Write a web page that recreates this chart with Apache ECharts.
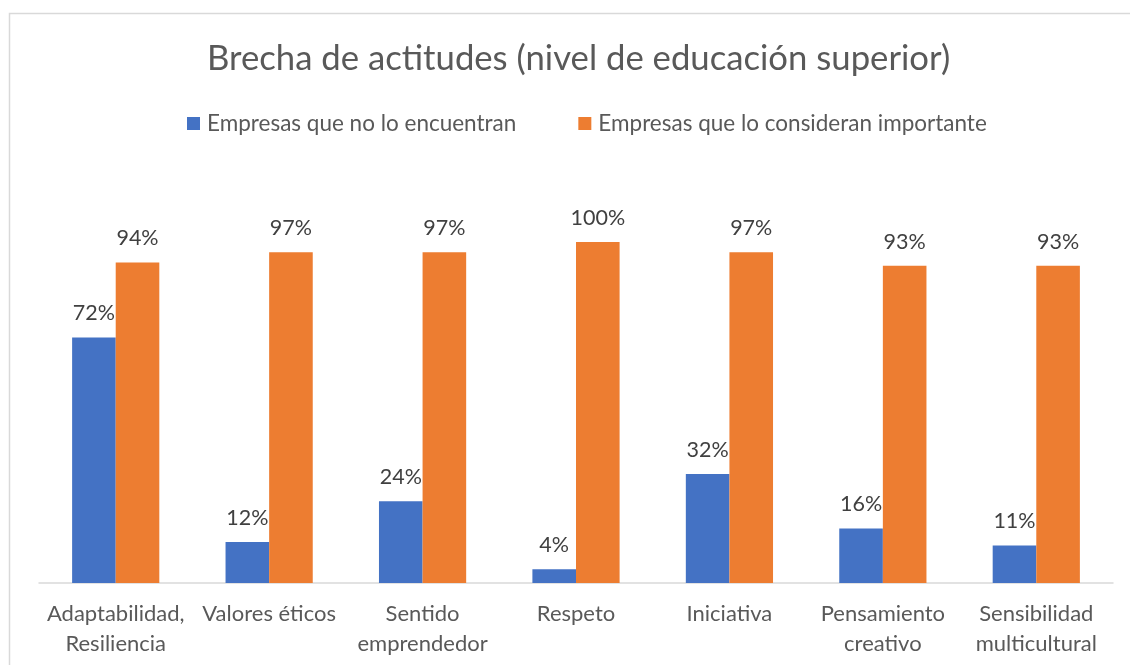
<!DOCTYPE html>
<html><head><meta charset="utf-8">
<script src="https://cdn.jsdelivr.net/npm/echarts@6/dist/echarts.min.js"></script>
<style>html,body{margin:0;padding:0;background:#fff}#c{width:1130px;height:665px}</style>
</head><body><div id="c"></div>
<script>
const categories = ["Adaptabilidad,\nResiliencia","Valores éticos","Sentido\nemprendedor","Respeto","Iniciativa","Pensamiento\ncreativo","Sensibilidad\nmulticultural"];
const seriesNames = ["Empresas que no lo encuentran","Empresas que lo consideran importante"];
const noEncuentran = [72,12,24,4,32,16,11];
const importante = [94,97,97,100,97,93,93];
const FONT = "Lato";
const chart = echarts.init(document.getElementById('c'));
chart.setOption({
  animation:false,
  graphic:[{type:'rect',shape:{x:9.5,y:13.5,width:1130,height:700},style:{fill:'none',stroke:'#d9d9d9',lineWidth:1.5}}],
  title:{text:'Brecha de actitudes (nivel de educación superior)',left:202,top:36,
    textStyle:{fontFamily:FONT,fontSize:34.7,fontWeight:'normal',color:'#595959'}},
  legend:{top:107,left:182,itemGap:62,itemWidth:13,itemHeight:13,icon:'rect',
    textStyle:{fontFamily:FONT,fontSize:22.5,color:'#595959',padding:[0,0,0,2]},data:seriesNames},
  grid:{left:39,right:17,top:242,bottom:82,containLabel:false},
  xAxis:{type:'category',data:categories,axisTick:{show:false},
    axisLine:{lineStyle:{color:'#d9d9d9',width:1.5}},
    axisLabel:{fontFamily:FONT,fontSize:22,color:'#595959',lineHeight:30,margin:16,interval:0}},
  yAxis:{type:'value',min:0,max:100,show:false,splitLine:{show:false}},
  series:[
    {name:seriesNames[0],type:'bar',data:noEncuentran,barWidth:43.6,barGap:'0%',
     itemStyle:{color:'#4472c4'},
     label:{show:true,position:'top',distance:13,formatter:'{c}%',fontFamily:FONT,fontSize:21.5,color:'#404040'}},
    {name:seriesNames[1],type:'bar',data:importante,barWidth:43.6,barGap:'0%',
     itemStyle:{color:'#ed7d31'},
     label:{show:true,position:'top',distance:13,formatter:'{c}%',fontFamily:FONT,fontSize:21.5,color:'#404040'}}
  ]
});
</script></body></html>
